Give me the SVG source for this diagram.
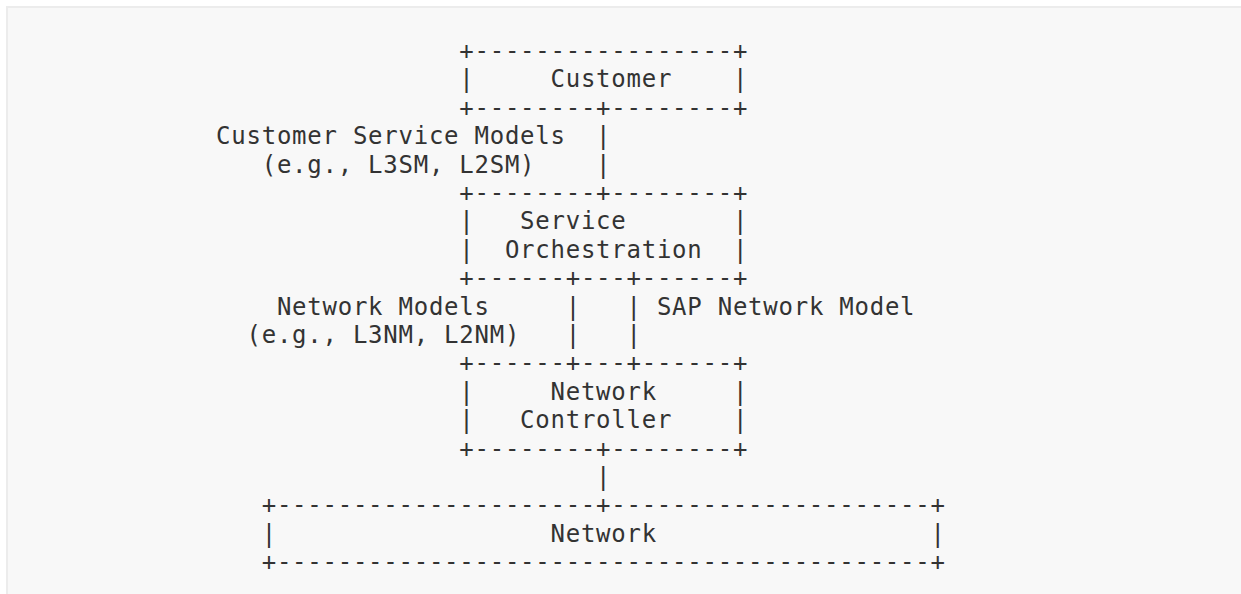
<svg xmlns="http://www.w3.org/2000/svg" width="1241" height="594" viewBox="0 0 1241 594">
<style>
  text { font-family: "DejaVu Sans Mono", "Liberation Mono", monospace; font-size: 24px; letter-spacing: 0.75px; fill: #333333; }
</style>
<rect x="0" y="0" width="1241" height="594" fill="#ffffff"/>
<rect x="7" y="7" width="1245" height="600" fill="#f8f8f8" stroke="#ececec" stroke-width="2"/>

<g id="node-customer">
  <text x="459.3" y="58.9">+-----------------+</text>
  <text x="459.3" y="87.3">|</text>
  <text x="550.5" y="87.3">Customer</text>
  <text x="732.9" y="87.3">|</text>
  <text x="459.3" y="115.7">+--------+--------+</text>
</g>

<g id="node-service-orchestration">
  <text x="459.3" y="200.9">+--------+--------+</text>
  <text x="459.3" y="229.3">|</text>
  <text x="520.1" y="229.3">Service</text>
  <text x="732.9" y="229.3">|</text>
  <text x="459.3" y="257.7">|</text>
  <text x="504.9" y="257.7">Orchestration</text>
  <text x="732.9" y="257.7">|</text>
  <text x="459.3" y="286.1">+------+---+------+</text>
</g>

<g id="node-network-controller">
  <text x="459.3" y="371.3">+------+---+------+</text>
  <text x="459.3" y="399.7">|</text>
  <text x="550.5" y="399.7">Network</text>
  <text x="732.9" y="399.7">|</text>
  <text x="459.3" y="428.1">|</text>
  <text x="520.1" y="428.1">Controller</text>
  <text x="732.9" y="428.1">|</text>
  <text x="459.3" y="456.5">+--------+--------+</text>
</g>

<g id="node-network">
  <text x="261.7" y="513.3">+---------------------+---------------------+</text>
  <text x="261.7" y="541.7">|</text>
  <text x="550.5" y="541.7">Network</text>
  <text x="930.5" y="541.7">|</text>
  <text x="261.7" y="570.1">+-------------------------------------------+</text>
</g>

<g id="connectors">
  <text x="596.1" y="144.1">|</text>
  <text x="596.1" y="172.5">|</text>
  <text x="565.7" y="314.5">|</text>
  <text x="626.5" y="314.5">|</text>
  <text x="565.7" y="342.9">|</text>
  <text x="626.5" y="342.9">|</text>
  <text x="596.1" y="484.9">|</text>
</g>

<g id="labels">
  <text x="216.1" y="144.1">Customer Service Models</text>
  <text x="261.7" y="172.5">(e.g., L3SM, L2SM)</text>
  <text x="276.9" y="314.5">Network Models</text>
  <text x="246.5" y="342.9">(e.g., L3NM, L2NM)</text>
  <text x="656.9" y="314.5">SAP Network Model</text>
</g>
</svg>
